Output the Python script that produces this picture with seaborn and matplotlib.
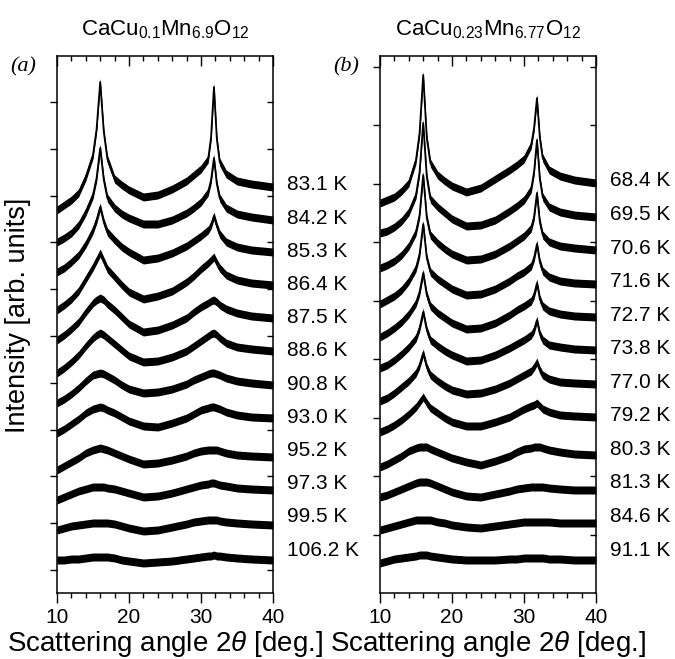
import numpy as np
import pandas as pd
import seaborn as sns
import matplotlib.pyplot as plt

# ---------------------------
# Data (arb. units)
# ---------------------------

angle = [10, 11, 12, 13, 14, 15, 15.5, 16, 16.5, 17, 18, 19, 20, 22, 24, 26,
         28, 29, 30, 31, 31.4, 31.8, 32.2, 32.6, 33.5, 35, 37, 40]

# panel (a) CaCu0.1Mn6.9O12
temps_a = ["83.1 K", "84.2 K", "85.3 K", "86.4 K", "87.5 K", "88.6 K",
           "90.8 K", "93.0 K", "95.2 K", "97.3 K", "99.5 K", "106.2 K"]
offsets_a = [406, 373, 341, 308, 275, 242, 208, 175, 136, 103, 68, 33]

a_831 = [-23, -18, -13, -6, 10, 32, 58, 105, 55, 28, 8, 2, -3, -10, -8, -2, 6, 12, 18, 28, 50, 100, 48, 25, 13, 6, 3, 0]
a_842 = [-22, -18, -13, -5, 8, 25, 42, 72, 40, 22, 12, 6, 2, -4, -4, 0, 7, 12, 18, 28, 40, 62, 36, 22, 12, 6, 3, 0]
a_853 = [-20, -16, -10, -3, 8, 22, 32, 45, 30, 20, 12, 5, 0, -8, -6, -1, 6, 11, 16, 22, 27, 36, 26, 18, 10, 5, 2, 0]
a_864 = [-25, -20, -14, -6, 6, 18, 25, 32, 24, 16, 8, 0, -7, -14, -11, -6, 3, 9, 16, 22, 25, 28, 22, 17, 10, 5, 2, 0]
a_875 = [-22, -17, -11, -4, 6, 15, 18, 20, 18, 14, 8, 1, -6, -14, -12, -7, 0, 6, 11, 15, 17, 18, 16, 13, 9, 5, 2, 0]
a_886 = [-22, -17, -11, -4, 5, 13, 16, 18, 16, 13, 7, 1, -5, -11, -10, -6, 0, 5, 10, 15, 17, 18, 16, 13, 8, 4, 2, 0]
a_908 = [-18, -14, -9, -3, 4, 10, 11, 12, 11, 9, 5, 0, -4, -8, -7, -4, 1, 5, 8, 11, 12, 12, 11, 10, 7, 4, 2, 0]
a_930 = [-15, -11, -6, -1, 5, 9, 10, 11, 10, 8, 5, 1, -3, -8, -9, -5, 0, 4, 8, 10, 11, 11, 10, 9, 6, 3, 1, 0]
a_952 = [-13, -9, -5, -1, 4, 7, 8, 9, 8, 7, 4, 1, -2, -7, -6, -3, 1, 4, 6, 7, 7, 7, 7, 6, 4, 2, 1, 0]
a_973 = [-10, -7, -4, -1, 1, 3, 3, 3, 3, 2, 1, -1, -3, -7, -6, -3, 1, 3, 5, 6, 7, 7, 6, 5, 4, 2, 1, 0]
a_995 = [-5, -3, -1, 0, 1, 2, 2, 2, 2, 2, 1, -1, -3, -6, -5, -2, 1, 3, 4, 5, 5, 5, 5, 4, 3, 2, 1, 0]
a_1062 = [0, 0, 1, 1, 2, 3, 3, 3, 3, 3, 2, 0, -1, -3, -2, -1, 1, 2, 3, 4, 4, 5, 4, 4, 3, 2, 1, 0]

# panel (b) CaCu0.23Mn6.77O12
temps_b = ["68.4 K", "69.5 K", "70.6 K", "71.6 K", "72.7 K", "73.8 K",
           "77.0 K", "79.2 K", "80.3 K", "81.3 K", "84.6 K", "91.1 K"]
offsets_b = [410, 376, 343, 309, 276, 243, 209, 176, 138, 103, 70, 33]

b_684 = [-20, -17, -14, -8, 0, 23, 50, 108, 45, 20, 8, 2, -3, -9, -5, 4, 13, 18, 24, 38, 55, 85, 45, 25, 13, 7, 3, 0]
b_695 = [-16, -14, -10, -4, 5, 22, 45, 94, 40, 18, 10, 4, -2, -9, -8, -3, 6, 11, 17, 28, 45, 77, 38, 20, 10, 5, 2, 0]
b_706 = [-18, -15, -11, -5, 4, 18, 35, 75, 32, 15, 7, 1, -4, -10, -9, -4, 4, 9, 14, 22, 33, 57, 28, 15, 8, 4, 2, 0]
b_716 = [-20, -16, -12, -6, 3, 16, 30, 60, 26, 12, 5, 0, -5, -11, -10, -5, 3, 8, 12, 18, 26, 40, 22, 13, 7, 3, 1, 0]
b_727 = [-20, -16, -11, -5, 3, 14, 25, 44, 22, 11, 4, -1, -6, -12, -11, -6, 2, 7, 11, 16, 22, 34, 18, 11, 6, 3, 1, 0]
b_738 = [-18, -15, -10, -4, 3, 12, 22, 38, 20, 10, 4, -1, -5, -11, -10, -5, 2, 6, 10, 15, 20, 30, 16, 10, 5, 3, 1, 0]
b_770 = [-17, -14, -9, -3, 3, 11, 19, 31, 17, 9, 3, -2, -6, -10, -9, -5, 1, 5, 9, 13, 17, 22, 14, 9, 5, 2, 1, 0]
b_792 = [-15, -12, -8, -3, 3, 10, 15, 20, 14, 9, 4, -1, -5, -9, -9, -5, 0, 4, 8, 11, 12, 14, 11, 8, 5, 2, 1, 0]
b_803 = [-12, -9, -5, -1, 4, 7, 8, 8, 8, 6, 3, 0, -3, -7, -10, -6, -1, 3, 6, 7, 8, 8, 8, 7, 5, 3, 1, 0]
b_813 = [-7, -5, -2, 1, 4, 7, 8, 8, 8, 7, 4, 1, -2, -6, -7, -4, -1, 1, 2, 3, 3, 3, 3, 3, 2, 1, 0, 0]
b_846 = [-7, -5, -3, -1, 1, 3, 3, 3, 3, 3, 1, 0, -2, -4, -5, -3, -1, 0, 1, 1, 1, 1, 1, 1, 1, 0, 0, 0]
b_911 = [-3, -1, 1, 2, 3, 4, 5, 5, 5, 4, 3, 2, 1, 0, 0, 0, 1, 1, 2, 2, 2, 2, 2, 2, 1, 1, 0, 0]

curves_a = [a_831, a_842, a_853, a_864, a_875, a_886, a_908, a_930, a_952, a_973, a_995, a_1062]
curves_b = [b_684, b_695, b_706, b_716, b_727, b_738, b_770, b_792, b_803, b_813, b_846, b_911]

noise = 4  # half width of the scatter band

# ---------------------------
# Style
# ---------------------------
sns.set_style("ticks")
plt.rcParams['font.family'] = ['Liberation Sans', 'DejaVu Sans']
plt.rcParams['mathtext.fontset'] = 'custom'
plt.rcParams['mathtext.rm'] = 'Liberation Sans'
plt.rcParams['mathtext.it'] = 'Liberation Sans:italic'
plt.rcParams['mathtext.default'] = 'regular'
for k in ['text.color', 'axes.labelcolor', 'xtick.color', 'ytick.color', 'axes.edgecolor']:
    plt.rcParams[k] = 'black'

fig = plt.figure(figsize=(6.75, 6.59), dpi=100)
W, H = 675, 659


def panel(left_px, curves, offsets, temps, yticks, title, tag):
    ax = fig.add_axes([left_px / W, 1 - 593 / H, 216 / W, 537 / H])
    rows = []
    for t, c, off in zip(temps, curves, offsets):
        for x, v in zip(angle, c):
            rows.append({"angle": x, "I": v + off, "T": t})
    df = pd.DataFrame(rows)
    sns.lineplot(data=df, x="angle", y="I", units="T", estimator=None,
                 color="black", lw=1.3, ax=ax, sort=False)
    for c, off in zip(curves, offsets):
        y = np.array(c) + off
        ax.fill_between(angle, y - noise, y + noise, color="black", lw=0)

    ax.set_xlim(10, 40)
    ax.set_ylim(0, 537)
    ax.set_xticks([10, 20, 30, 40])
    ax.set_xticks(np.arange(10, 41, 2), minor=True)
    ax.set_yticks(yticks)
    ax.set_yticklabels([])
    ax.tick_params(axis='x', which='major', direction='out', length=7, width=1, labelsize=15)
    ax.tick_params(axis='x', which='minor', direction='out', length=3.5, width=1)
    ax.tick_params(axis='y', which='major', direction='out', length=5, width=1)
    for s in ax.spines.values():
        s.set_visible(True)
        s.set_linewidth(1.1)
        s.set_color('black')
    ax.set_xlabel(r"Scattering angle $\mathit{2\theta}$ [deg.]", fontsize=20, labelpad=2)
    ax.set_ylabel("")

    # mirrored ticks pointing inward on top and right
    top = ax.secondary_xaxis('top')
    top.set_xticks([10, 20, 30, 40])
    top.set_xticks(np.arange(10, 41, 2), minor=True)
    top.tick_params(which='major', direction='in', length=7, width=1, labeltop=False)
    top.tick_params(which='minor', direction='in', length=3.5, width=1)
    top.spines['top'].set_visible(False)
    right = ax.secondary_yaxis('right')
    right.set_yticks(yticks)
    right.tick_params(direction='in', length=4, width=1, labelright=False)
    right.spines['right'].set_visible(False)

    # temperature labels
    ys = np.linspace(offsets[0] + 2, offsets[-1] + 10, len(temps))
    for t, y in zip(temps, ys):
        ax.text(41.9, y, t, fontsize=15, va='center', ha='left', clip_on=False)

    cx = (left_px + 108) / W
    fig.text(cx, 1 - 30 / H, title, fontsize=16, ha='center', va='center')
    fig.text((left_px - 47) / W, 1 - 67 / H, tag, fontsize=16, ha='left', va='center',
             family='Liberation Serif', style='italic')
    return ax


ax_a = panel(57, curves_a, offsets_a, temps_a, 23 + 46.8 * np.arange(11),
             r"CaCu$_{0.1}$Mn$_{6.9}$O$_{12}$", "(a)")
ax_b = panel(380, curves_b, offsets_b, temps_b, 58.5 * np.arange(1, 10),
             r"CaCu$_{0.23}$Mn$_{6.77}$O$_{12}$", "(b)")

fig.text(18 / W, 1 - 315 / H, "Intensity [arb. units]", fontsize=19.5,
         rotation=90, ha='center', va='center')

plt.savefig("out.png", dpi=100)
